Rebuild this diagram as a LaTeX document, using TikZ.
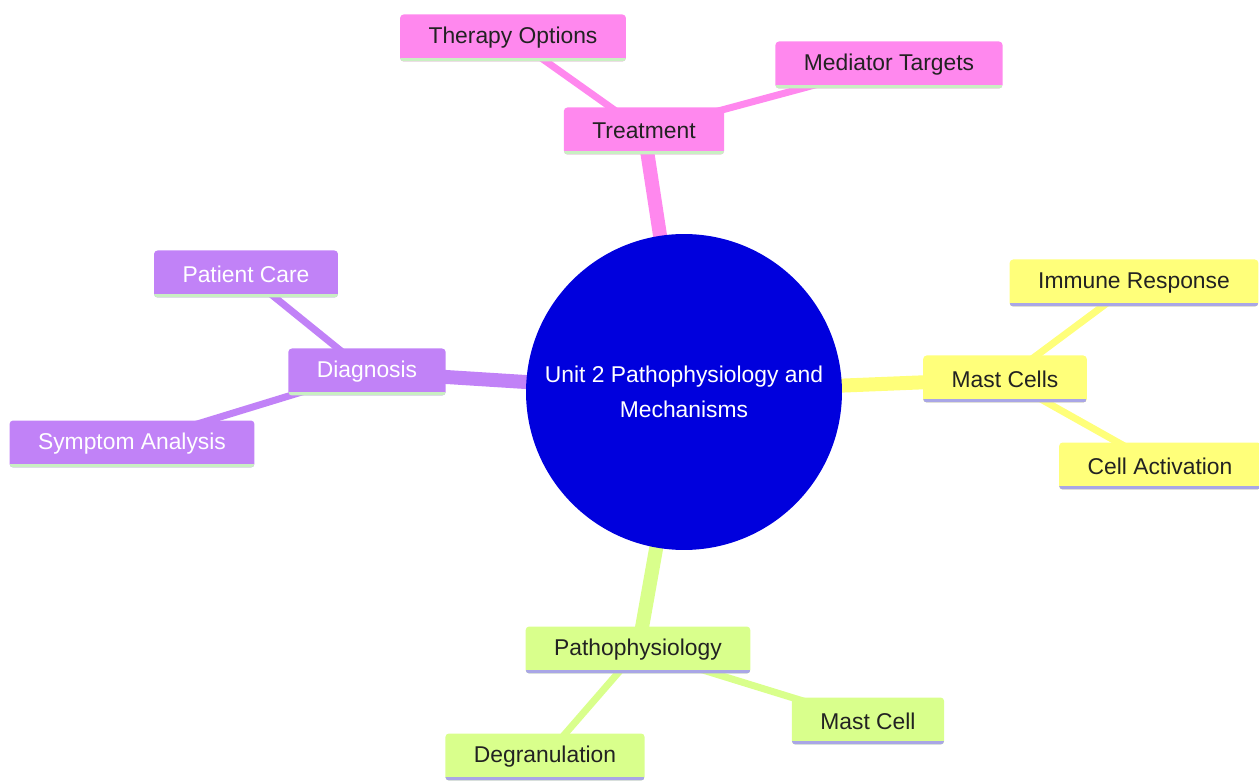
\documentclass[tikz,border=0pt]{standalone}
\usepackage{fontspec}
\setmainfont{Liberation Sans}
\usetikzlibrary{backgrounds}

\definecolor{hubblue}{HTML}{0000DD}
\definecolor{pinkfill}{HTML}{FF88EE}
\definecolor{purplefill}{HTML}{C182F7}
\definecolor{yellowfill}{HTML}{FFFF7A}
\definecolor{greenfill}{HTML}{D9FF8C}
\definecolor{mintline}{HTML}{C9EFC2}
\definecolor{lilacline}{HTML}{A9A6E6}
\definecolor{darktext}{HTML}{222222}

\tikzset{
	topic/.style={rectangle, rounded corners=2pt, inner xsep=0.57cm, minimum height=0.94cm, font=\fontsize{13}{15}\selectfont},
	underline/.style={path picture={\draw[line width=0.12cm, #1] (path picture bounding box.south west) -- (path picture bounding box.south east);}},
	pinktopic/.style={topic, fill=pinkfill, text=darktext, underline=mintline},
	purpletopic/.style={topic, fill=purplefill, text=white, underline=mintline},
	yellowtopic/.style={topic, fill=yellowfill, text=darktext, underline=lilacline},
	greentopic/.style={topic, fill=greenfill, text=darktext, underline=lilacline},
	branch/.style={line width=0.28cm},
	twig/.style={line width=0.14cm}
}

\begin{document}
\begin{tikzpicture}[x=0.02cm,y=-0.02cm]
			%\draw [help lines] (0,0) grid (1259,783);
			\useasboundingbox (0,0) rectangle (1259,783);

			\node[circle, fill=hubblue, text=white, minimum size=6.32cm, align=center, font=\fontsize{13}{20}\selectfont] (hub) at (684,392) {Unit 2 Pathophysiology and\\Mechanisms};

			\node[pinktopic] (treatment) at (644,131) {Treatment};
			\node[pinktopic] (therapy) at (513,38) {Therapy Options};
			\node[pinktopic] (mediator) at (889,65) {Mediator Targets};

			\node[purpletopic] (diagnosis) at (367,372) {Diagnosis};
			\node[purpletopic] (care) at (246,274) {Patient Care};
			\node[purpletopic] (symptom) at (132,444) {Symptom Analysis};

			\node[yellowtopic] (mastcells) at (1005,379) {Mast Cells};
			\node[yellowtopic] (immune) at (1134,283) {Immune Response};
			\node[yellowtopic] (activation) at (1160,466) {Cell Activation};

			\node[greentopic] (patho) at (638,650) {Pathophysiology};
			\node[greentopic] (mastcell) at (868,721) {Mast Cell};
			\node[greentopic] (degran) at (545,757) {Degranulation};

			\begin{scope}[on background layer]
			\draw[branch, pinkfill] (hub.center) -- (treatment.center);
			\draw[twig, pinkfill] (treatment.center) -- (therapy.center);
			\draw[twig, pinkfill] (treatment.center) -- (mediator.center);

			\draw[branch, purplefill] (hub.center) -- (diagnosis.center);
			\draw[twig, purplefill] (diagnosis.center) -- (care.center);
			\draw[twig, purplefill] (diagnosis.center) -- (symptom.center);

			\draw[branch, yellowfill] (hub.center) -- (mastcells.center);
			\draw[twig, yellowfill] (mastcells.center) -- (immune.center);
			\draw[twig, yellowfill] (mastcells.center) -- (activation.center);

			\draw[branch, greenfill] (hub.center) -- (patho.center);
			\draw[twig, greenfill] (patho.center) -- (mastcell.center);
			\draw[twig, greenfill] (patho.center) -- (degran.center);
			\end{scope}
		\end{tikzpicture}
\end{document}
